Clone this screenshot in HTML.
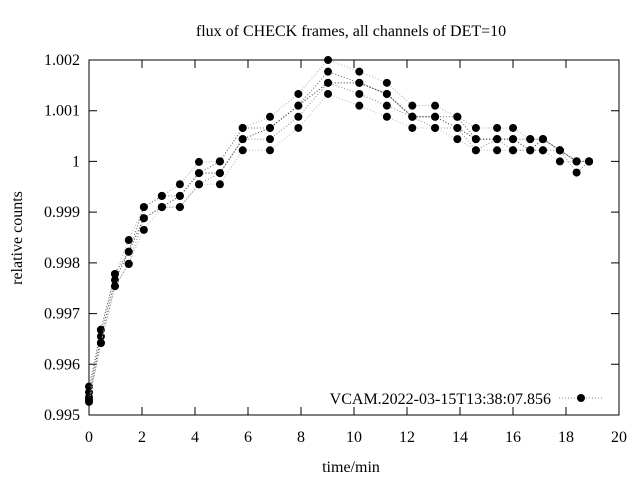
<!DOCTYPE html>
<html><head><meta charset="utf-8"><style>
html,body{margin:0;padding:0;background:#fff}
svg text{font-family:"Liberation Serif",serif;font-size:16px;fill:#000}
</style></head><body>
<svg id="chart" width="640" height="480" xmlns="http://www.w3.org/2000/svg">
<rect width="640" height="480" fill="#fff"/>
<text x="351" y="36" text-anchor="middle">flux of CHECK frames, all channels of DET=10</text>
<text x="351" y="472" text-anchor="middle">time/min</text>
<text transform="translate(22,238) rotate(-90)" text-anchor="middle">relative counts</text>
<g id="axes"></g>
<g id="series"></g>
<g id="legend">
<text x="551" y="404" text-anchor="end">VCAM.2022-03-15T13:38:07.856</text>
<line x1="559" y1="398" x2="603" y2="398" stroke="#888" stroke-dasharray="1,2"/>
<circle cx="581" cy="398" r="4" fill="#000"/>
</g>
</svg>
<script>
const xs=[0,0.45,0.98,1.5,2.07,2.75,3.43,4.15,4.94,5.8,6.83,7.9,9.02,10.2,11.24,12.2,13.06,13.9,14.6,15.4,16.0,16.65,17.13,17.77,18.4,18.87];
const s1=[.99556,.99668,.99778,.99845,.9991,.99932,.99955,.99999,1.0,1.00066,1.00088,1.00133,1.002,1.00177,1.00155,1.0011,1.0011,1.00088,1.00066,1.00066,1.00066,1.00044,1.00044,1.00022,1.0,1.0];
const s2=[.99545,.99668,.99778,.99822,.9991,.99932,.99932,.99977,1.0,1.00066,1.00066,1.0011,1.00177,1.00155,1.00133,1.00088,1.00088,1.00088,1.00044,1.00044,1.00044,1.00044,1.00044,1.00022,1.0,1.0];
const s3=[.99535,.99655,.99766,.99822,.99888,.9991,.99932,.99977,.99977,1.00044,1.00066,1.0011,1.00155,1.00155,1.00133,1.00088,1.00088,1.00066,1.00044,1.00044,1.00044,1.00022,1.00044,1.00022,1.0,1.0];
const s4=[.9953,.99642,.99754,.99798,.99888,.9991,.9991,.99955,.99977,1.00044,1.00044,1.00088,1.00155,1.00133,1.0011,1.00088,1.00066,1.00066,1.00022,1.00044,1.00022,1.00022,1.00022,1.00022,.99978,1.0];
const s5=[.99526,.99642,.99754,.99798,.99865,.9991,.9991,.99955,.99955,1.00022,1.00022,1.00066,1.00133,1.0011,1.00088,1.00066,1.00066,1.00044,1.00022,1.00022,1.00022,1.00022,1.00022,1.0,1.0,1.0];
const allSeries=[s1,s2,s3,s4,s5];
const xTicks=[0,2,4,6,8,10,12,14,16,18,20];
const yTicks=[0.995,0.996,0.997,0.998,0.999,1,1.001,1.002];
const yTickLabels=["0.995","0.996","0.997","0.998","0.999","1","1.001","1.002"];
const L=89,R=619,T=60,B=415,X0=0,X1=20,Y0=0.995,Y1=1.002;
function sx(v){return L+(v-X0)/(X1-X0)*(R-L);}
function sy(v){return B-(v-Y0)/(Y1-Y0)*(B-T);}
const NS="http://www.w3.org/2000/svg";
function mk(tag,attrs,parent){const e=document.createElementNS(NS,tag);for(const k in attrs)e.setAttribute(k,attrs[k]);parent.appendChild(e);return e;}
const ax=document.getElementById('axes');
const frame=mk('rect',{x:L,y:T,width:R-L,height:B-T,fill:'none',stroke:'#000','stroke-width':1},ax);


xTicks.forEach(t=>{const x=sx(t);
 const a=mk('path',{d:`M${x},${B}v-8M${x},${T}v8`,stroke:'#000'},ax);
 
 
 const tx=mk('text',{x:x,y:B+27,'text-anchor':'middle'},ax);tx.textContent=t;
 
 
});
yTicks.forEach((t,i)=>{const y=sy(t);
 const a=mk('path',{d:`M${L},${y}h8M${R},${y}h-8`,stroke:'#000'},ax);
 
 
 const tx=mk('text',{x:L-9,y:y+5,'text-anchor':'end'},ax);tx.textContent=yTickLabels[i];
 
 
});
const sg=document.getElementById('series');
const greys=['#aaa','#666','#333','#888','#bbb'];
allSeries.forEach((s,si)=>{
 const g=mk('g',{},sg);
 
 
 const pts=s.map((v,i)=>sx(xs[i])+','+sy(v)).join(' ');
 const pl=mk('polyline',{points:pts,fill:'none',stroke:greys[si],'stroke-dasharray':'1,2','stroke-width':1},g);
 
 
 s.forEach((v,i)=>{const c=mk('circle',{cx:sx(xs[i]),cy:sy(v),r:4,fill:'#000'},g);
  
  });
});
</script>
</body></html>
